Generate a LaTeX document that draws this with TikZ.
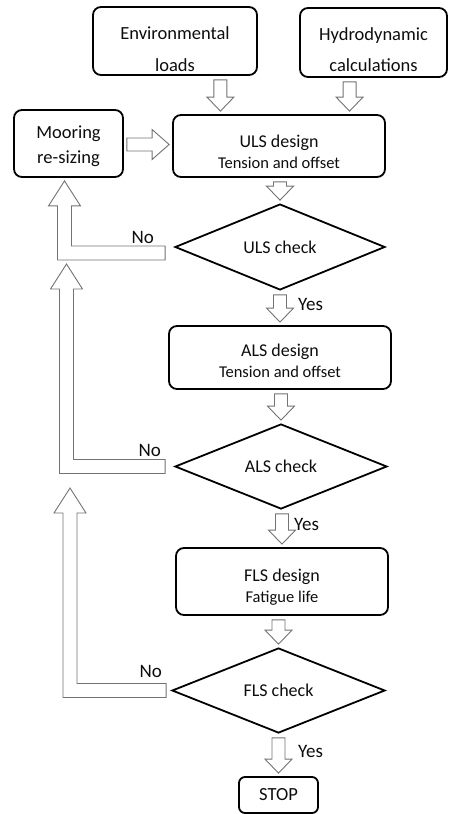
\documentclass[tikz,border=0pt]{standalone}
\usepackage{fontspec}
\setmainfont{Carlito}
\usetikzlibrary{calc, shapes.geometric}

\newcommand{\subline}{\fontsize{16.5}{21}\selectfont}
% pushes a text block down inside its box
\newcommand{\dropby}[1]{\rule{0pt}{\dimexpr13.5pt+#1pt+#1pt\relax}}

% hollow block arrows, from (#1) to the tip (#2)
\newcommand{\downblock}[2]{%
    \draw[blockarrow] let \p1=(#1), \p2=(#2) in
        (\x2-\shafthalf pt,\y1-4pt) -- (\x2+\shafthalf pt,\y1-4pt) -- (\x2+\shafthalf pt,\y2+17pt)
        -- (\x2+\headhalf pt,\y2+17pt) -- (\x2,\y2+3pt) -- (\x2-\headhalf pt,\y2+17pt)
        -- (\x2-\shafthalf pt,\y2+17pt) -- cycle;}
\newcommand{\rightblock}[2]{%
    \draw[blockarrow] let \p1=(#1), \p2=(#2) in
        (\x1+3pt,\y1-1pt+\shafthalf pt) -- (\x2-20pt,\y1-1pt+\shafthalf pt) -- (\x2-20pt,\y1-1pt+15pt)
        -- (\x2-3pt,\y1-1pt) -- (\x2-20pt,\y1-1pt-15pt) -- (\x2-20pt,\y1-1pt-\shafthalf pt)
        -- (\x1+3pt,\y1-1pt-\shafthalf pt) -- cycle;}
\newcommand{\lblock}[2]{%
    \draw[blockarrow] let \p1=(#1), \p2=(#2) in
        (\x1,\y1+\lhalf pt) -- (\x2+\lhalf pt,\y1+\lhalf pt) -- (\x2+\lhalf pt,\y2-25pt)
        -- (\x2+16pt,\y2-25pt) -- (\x2,\y2) -- (\x2-16pt,\y2-25pt)
        -- (\x2-\lhalf pt,\y2-25pt) -- (\x2-\lhalf pt,\y1-\lhalf pt) -- (\x1,\y1-\lhalf pt) -- cycle;}

\begin{document}
\begin{tikzpicture}[x=1pt, y=-1pt,
        box/.style={draw, line width=1.8pt, rounded corners=8pt, align=center, inner sep=0pt, text=black!95, font=\fontsize{18.5}{31.5}\selectfont},
        designbox/.style={box, font=\fontsize{18}{21}\selectfont},
        check/.style={draw, diamond, line width=1.8pt, inner sep=0pt, text=black!95, font=\fontsize{18}{21}\selectfont},
        blockarrow/.style={draw=black!55, fill=white, line width=0.9pt, line join=miter},
        answer/.style={inner sep=0pt, text=black!95, font=\fontsize{19}{21}\selectfont}]
    \pgfmathsetmacro{\shafthalf}{6.5}
    \pgfmathsetmacro{\headhalf}{13.5}
    \pgfmathsetmacro{\lhalf}{7}
    \useasboundingbox (0,0) rectangle (448,814);

    % inputs
    \node[box, minimum width=164pt, minimum height=68pt] (env) at (175,41) {\dropby{8}Environmental\\loads};
    \node[box, minimum width=147pt, minimum height=69pt] (hydro) at (373.5,42.5) {\dropby{7}Hydrodynamic\\calculations};
    \node[box, minimum width=109pt, minimum height=67pt, font=\fontsize{18.5}{25}\selectfont] (moor) at (68.5,143.5) {\dropby{2}Mooring\\re-sizing};

    % design loop
    \node[designbox, minimum width=212pt, minimum height=62pt] (uls) at (279,146) {\dropby{5}ULS design\\{\subline Tension and offset}};
    \node[check, minimum width=210pt, minimum height=80pt] (ulsc) at (280,247) {ULS check};
    \node[designbox, minimum width=222pt, minimum height=63pt] (als) at (280,357.5) {\dropby{3}ALS design\\{\subline Tension and offset}};
    \node[check, minimum width=212pt, minimum height=85pt] (alsc) at (281,466.5) {ALS check};
    \node[designbox, minimum width=212pt, minimum height=67pt] (fls) at (282,581.5) {\dropby{5}FLS design\\{\subline Fatigue life}};
    \node[check, minimum width=213pt, minimum height=85pt] (flsc) at (278.5,690.5) {FLS check};
    \node[box, minimum width=79pt, minimum height=36pt, rounded corners=6pt, font=\fontsize{18.5}{21}\selectfont] (stop) at (278.5,795) {STOP};

    \coordinate (envin) at ($(uls.north west)!0.226!(uls.north east)$);
    \coordinate (hydin) at ($(uls.north west)!0.83!(uls.north east)$);
    \downblock{env.south}{envin}
    \downblock{hydro.south}{hydin}
    \rightblock{moor.east}{uls.west}
    \downblock{uls.south}{ulsc.north}
    \downblock{ulsc.south}{als.north}
    \downblock{als.south}{alsc.north}
    \downblock{alsc.south}{fls.north}
    \downblock{fls.south}{flsc.north}
    \downblock{flsc.south}{stop.north}

    % back to re-sizing
    \coordinate (tipuls) at ($(moor.south)+(-4,3)$);
    \coordinate (tipals) at (66.5,264);
    \coordinate (tipfls) at (70,488);
    \lblock{$(ulsc.west)+(-9,6)$}{tipuls}
    \lblock{$(alsc.west)+(-9,0)$}{tipals}
    \lblock{$(flsc.west)+(-5,0)$}{tipfls}

    \node[answer, anchor=base east] (noa) at ($(ulsc.west)+(-20,-4)$) {No};
    \node[answer, anchor=base east] (nob) at ($(alsc.west)+(-13,-10.5)$) {No};
    \node[answer, anchor=base east] (noc) at ($(flsc.west)+(-9,-13.5)$) {No};
    \node[answer, anchor=base west] (yesa) at ($(ulsc.south)+(18,20)$) {Yes};
    \node[answer, anchor=base west] (yesb) at ($(alsc.south)+(13,21)$) {Yes};
    \node[answer, anchor=base west] (yesc) at ($(flsc.south)+(19.5,24)$) {Yes};
\end{tikzpicture}
\end{document}
